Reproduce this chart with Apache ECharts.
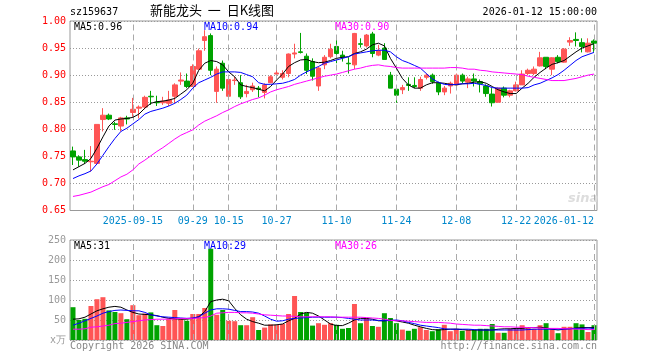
<!DOCTYPE html>
<html><head><meta charset="utf-8">
<script src="https://cdn.jsdelivr.net/npm/echarts@6/dist/echarts.min.js"></script>
<style>html,body{margin:0;padding:0;background:#fff}#c{width:660px;height:360px}</style>
</head><body><div id="c"></div>
<script>
var dates = ['2025-09-01','2025-09-02','2025-09-03','2025-09-04','2025-09-05','2025-09-08','2025-09-09','2025-09-10','2025-09-11','2025-09-12',
'2025-09-15','2025-09-16','2025-09-17','2025-09-18','2025-09-19','2025-09-22','2025-09-23','2025-09-24','2025-09-25','2025-09-26',
'2025-09-29','2025-09-30','2025-10-09','2025-10-10','2025-10-13','2025-10-14','2025-10-15','2025-10-16','2025-10-17','2025-10-20',
'2025-10-21','2025-10-22','2025-10-23','2025-10-24','2025-10-27','2025-10-28','2025-10-29','2025-10-30','2025-10-31','2025-11-03',
'2025-11-04','2025-11-05','2025-11-06','2025-11-07','2025-11-10','2025-11-11','2025-11-12','2025-11-13','2025-11-14','2025-11-17',
'2025-11-18','2025-11-19','2025-11-20','2025-11-21','2025-11-24','2025-11-25','2025-11-26','2025-11-27','2025-11-28','2025-12-01',
'2025-12-02','2025-12-03','2025-12-04','2025-12-05','2025-12-08','2025-12-09','2025-12-10','2025-12-11','2025-12-12','2025-12-15',
'2025-12-16','2025-12-17','2025-12-18','2025-12-19','2025-12-22','2025-12-23','2025-12-24','2025-12-25','2025-12-26','2025-12-29',
'2025-12-30','2025-12-31','2026-01-05','2026-01-06','2026-01-07','2026-01-08','2026-01-09','2026-01-12'];
var tickDates = ['2025-09-15','2025-09-29','2025-10-15','2025-10-27','2025-11-10','2025-11-24','2025-12-08','2025-12-22','2026-01-12'];
var tickLabels = ['2025-09-15','09-29','10-15','10-27','11-10','11-24','12-08','12-22','2026-01-12'];
var priceTicks = [0.65,0.70,0.75,0.80,0.85,0.90,0.95,1.00];
var volTicks = [0,50,100,150,200,250];

var open  = [0.760,0.749,0.744,0.740,0.737,0.818,0.826,0.810,0.806,0.821,0.831,0.839,0.841,0.861,0.850,0.849,0.848,0.861,0.889,0.889,
0.879,0.911,0.964,0.973,0.870,0.922,0.861,0.890,0.886,0.866,0.873,0.876,0.868,0.886,0.902,0.896,0.903,0.939,0.943,0.935,
0.925,0.880,0.919,0.934,0.953,0.937,0.922,0.919,0.958,0.954,0.976,0.937,0.950,0.900,0.874,0.873,0.883,0.881,0.876,0.896,
0.900,0.885,0.869,0.880,0.882,0.900,0.887,0.893,0.888,0.880,0.865,0.850,0.876,0.863,0.871,0.882,0.903,0.903,0.917,0.933,
0.911,0.933,0.924,0.961,0.966,0.960,0.943,0.963];
var close = [0.749,0.743,0.741,0.741,0.809,0.826,0.819,0.809,0.821,0.819,0.837,0.841,0.859,0.860,0.849,0.852,0.854,0.882,0.891,0.879,
0.916,0.945,0.971,0.909,0.911,0.876,0.892,0.891,0.860,0.870,0.880,0.874,0.882,0.897,0.904,0.903,0.939,0.941,0.942,0.909,
0.898,0.913,0.933,0.948,0.940,0.933,0.921,0.977,0.957,0.974,0.940,0.945,0.929,0.876,0.863,0.877,0.881,0.879,0.892,0.900,
0.888,0.869,0.876,0.885,0.900,0.889,0.893,0.889,0.884,0.866,0.849,0.876,0.863,0.871,0.882,0.902,0.909,0.911,0.932,0.916,
0.932,0.925,0.948,0.964,0.964,0.953,0.959,0.959];
var low   = [0.734,0.731,0.736,0.722,0.735,0.796,0.817,0.799,0.796,0.809,0.823,0.820,0.837,0.845,0.843,0.845,0.843,0.848,0.882,0.876,
0.878,0.910,0.945,0.900,0.849,0.871,0.860,0.882,0.856,0.859,0.869,0.859,0.857,0.885,0.892,0.892,0.896,0.931,0.940,0.902,
0.890,0.871,0.911,0.931,0.922,0.925,0.903,0.911,0.951,0.951,0.933,0.935,0.929,0.876,0.849,0.865,0.871,0.876,0.871,0.892,
0.884,0.863,0.863,0.866,0.881,0.885,0.876,0.879,0.868,0.860,0.842,0.849,0.859,0.859,0.870,0.882,0.900,0.900,0.916,0.911,
0.900,0.922,0.923,0.954,0.953,0.942,0.942,0.943];
var high  = [0.768,0.752,0.762,0.769,0.809,0.839,0.829,0.814,0.823,0.825,0.858,0.844,0.862,0.871,0.862,0.860,0.871,0.885,0.905,0.903,
0.920,0.949,0.983,0.977,0.916,0.927,0.893,0.897,0.900,0.882,0.886,0.880,0.885,0.900,0.912,0.909,0.940,0.958,0.978,0.940,
0.931,0.916,0.937,0.958,0.971,0.945,0.933,0.978,0.968,0.976,0.980,0.956,0.959,0.906,0.879,0.882,0.896,0.896,0.897,0.903,
0.903,0.888,0.880,0.888,0.903,0.903,0.897,0.903,0.892,0.883,0.876,0.877,0.879,0.873,0.888,0.909,0.912,0.916,0.943,0.933,
0.933,0.937,0.950,0.970,0.979,0.968,0.968,0.966];
var ma5   = [0.725,0.731,0.737,0.746,0.765,0.786,0.806,0.817,0.819,0.820,0.822,0.828,0.839,0.848,0.851,0.852,0.854,0.857,0.865,0.873,
0.885,0.909,0.922,0.927,0.925,0.919,0.906,0.897,0.882,0.879,0.877,0.874,0.871,0.879,0.891,0.902,0.916,0.923,0.928,0.929,
0.925,0.923,0.924,0.927,0.931,0.933,0.934,0.940,0.943,0.948,0.956,0.959,0.954,0.931,0.913,0.894,0.882,0.876,0.876,0.882,
0.886,0.886,0.885,0.883,0.882,0.884,0.885,0.887,0.888,0.885,0.879,0.873,0.869,0.866,0.866,0.876,0.885,0.896,0.905,0.913,
0.920,0.923,0.927,0.935,0.943,0.950,0.954,0.958];
var ma10  = [0.709,0.714,0.718,0.723,0.736,0.752,0.768,0.783,0.796,0.802,0.810,0.818,0.828,0.833,0.836,0.839,0.843,0.848,0.855,0.863,
0.876,0.886,0.891,0.896,0.902,0.906,0.906,0.906,0.905,0.901,0.897,0.886,0.883,0.883,0.884,0.885,0.888,0.892,0.900,0.906,
0.911,0.916,0.922,0.925,0.928,0.931,0.934,0.939,0.941,0.943,0.945,0.946,0.946,0.943,0.934,0.927,0.923,0.918,0.913,0.903,
0.893,0.887,0.883,0.882,0.883,0.884,0.884,0.885,0.883,0.881,0.877,0.876,0.876,0.876,0.876,0.876,0.877,0.882,0.885,0.890,
0.895,0.901,0.909,0.918,0.927,0.934,0.938,0.942];
var ma30  = [0.676,0.678,0.681,0.684,0.689,0.694,0.698,0.705,0.712,0.717,0.725,0.736,0.743,0.751,0.759,0.766,0.774,0.782,0.789,0.794,
0.799,0.808,0.815,0.820,0.825,0.831,0.836,0.842,0.847,0.851,0.855,0.858,0.863,0.869,0.873,0.876,0.879,0.883,0.886,0.889,
0.892,0.895,0.898,0.900,0.902,0.905,0.908,0.911,0.913,0.916,0.918,0.919,0.917,0.916,0.914,0.913,0.913,0.913,0.913,0.913,
0.913,0.913,0.913,0.914,0.914,0.913,0.911,0.911,0.909,0.908,0.906,0.905,0.904,0.903,0.902,0.901,0.898,0.896,0.894,0.892,
0.890,0.890,0.890,0.892,0.894,0.897,0.900,0.902];
var vol   = [82,50,53,85,102,107,74,70,67,52,87,62,66,69,37,35,52,75,52,48,
65,65,80,228,63,75,48,47,37,37,57,25,31,39,38,40,65,110,70,68,
36,42,38,42,38,28,30,90,42,55,35,33,67,55,42,26,23,28,32,25,
22,27,38,22,28,23,25,25,28,28,40,18,18,28,30,37,32,28,37,42,
28,17,33,33,42,39,20,37];
var vma5  = [52,53,57,65,73,78,82,84,82,75,69,65,64,63,61,57,54,53,52,52,
54,58,71,96,100,102,98,79,63,52,46,42,37,37,38,40,48,54,65,69,
67,60,50,40,36,36,42,50,54,54,52,48,48,50,48,45,42,37,33,29,
26,25,26,27,27,26,25,25,25,25,25,27,28,28,29,29,31,31,32,30,
27,25,27,28,30,31,31,31];
var vma10 = [37,42,48,54,60,67,71,74,75,74,73,73,69,63,60,58,57,56,55,54,
55,58,67,75,78,78,77,74,71,71,70,67,60,52,47,48,52,54,55,56,
57,57,57,57,57,56,54,52,50,50,50,49,48,49,50,48,44,41,37,35,
33,31,28,27,27,27,27,26,25,25,25,25,25,25,25,25,26,27,27,27,
27,27,27,28,29,29,30,29];
var vma30 = [27,27,28,32,33,35,37,41,42,44,46,48,50,51,52,52,52,53,54,54,
54,55,56,60,67,68,69,69,68,68,67,65,63,62,61,60,60,59,58,58,
58,58,58,58,57,57,57,57,57,56,55,54,52,49,48,48,47,46,45,44,
44,44,43,42,40,39,38,37,37,36,35,34,33,33,32,32,31,31,30,29,
29,29,28,28,27,27,26,26];

var UP = '#ff5555', DOWN = '#00a300';
var MONO = '"DejaVu Sans Mono", "Liberation Mono", monospace';
var kdata = dates.map(function(d,i){ return [open[i], close[i], low[i], high[i]]; });
var vdata = vol.map(function(v,i){ return {value: v, itemStyle: {color: close[i] >= open[i] ? UP : DOWN}}; });
var tickIdx = tickDates.map(function(d){ return dates.indexOf(d); });
var vlines = tickDates.map(function(d){ return {xAxis: d}; });
var vlineStyle = {color: '#aaaaaa', type: [6,4], width: 1};

var chart = echarts.init(document.getElementById('c'), null, {renderer: 'canvas'});
chart.setOption({
  animation: false,
  backgroundColor: '#ffffff',
  textStyle: {fontFamily: MONO},
  grid: [
    {left: 70, right: 63, top: 21, height: 189.5, show: true, borderColor: '#999999', borderWidth: 1, backgroundColor: 'transparent'},
    {left: 70, right: 63, top: 240, height: 100, show: true, borderColor: '#999999', borderWidth: 1, backgroundColor: 'transparent'}
  ],
  xAxis: [
    {type: 'category', gridIndex: 0, data: dates, boundaryGap: true,
     axisLine: {show: false}, axisTick: {show: false}, splitLine: {show: false},
     axisLabel: {show: true, color: '#0088cc', fontFamily: MONO, fontSize: 10, margin: 6,
       interval: function(idx){ return tickIdx.indexOf(idx) >= 0; },
       formatter: function(v){ var k = tickDates.indexOf(v); return k >= 0 ? tickLabels[k] : ''; },
       alignMaxLabel: 'right'}},
    {type: 'category', gridIndex: 1, data: dates, boundaryGap: true,
     axisLine: {show: false}, axisTick: {show: false}, axisLabel: {show: false}, splitLine: {show: false}}
  ],
  yAxis: [
    {type: 'value', gridIndex: 0, min: priceTicks[0], max: priceTicks[priceTicks.length-1], interval: 0.05,
     axisLine: {show: false}, axisTick: {show: false},
     axisLabel: {color: '#ff0000', fontFamily: MONO, fontSize: 10, margin: 4, formatter: function(v){ return v.toFixed(2); }},
     splitLine: {show: true, lineStyle: {color: '#999999', type: [1,2], width: 1}}},
    {type: 'value', gridIndex: 1, min: volTicks[0], max: volTicks[volTicks.length-1], interval: 50,
     axisLine: {show: false}, axisTick: {show: false},
     axisLabel: {color: '#999999', fontFamily: MONO, fontSize: 10, margin: 4, formatter: function(v){ return v === 0 ? 'x万' : String(v); }},
     splitLine: {show: true, lineStyle: {color: '#999999', type: [1,2], width: 1}}}
  ],
  series: [
    {type: 'candlestick', xAxisIndex: 0, yAxisIndex: 0, data: kdata, barWidth: 5,
     itemStyle: {color: UP, color0: DOWN, borderColor: UP, borderColor0: DOWN, borderWidth: 1},
     markLine: {silent: true, symbol: ['none','none'], label: {show: false}, lineStyle: vlineStyle, data: vlines}},
    {type: 'line', xAxisIndex: 0, yAxisIndex: 0, data: ma5, showSymbol: false, lineStyle: {color: '#000000', width: 1}, z: 5},
    {type: 'line', xAxisIndex: 0, yAxisIndex: 0, data: ma10, showSymbol: false, lineStyle: {color: '#0000ff', width: 1}, z: 5},
    {type: 'line', xAxisIndex: 0, yAxisIndex: 0, data: ma30, showSymbol: false, lineStyle: {color: '#ff00ff', width: 1}, z: 5},
    {type: 'bar', xAxisIndex: 1, yAxisIndex: 1, data: vdata, barWidth: 5,
     markLine: {silent: true, symbol: ['none','none'], label: {show: false}, lineStyle: vlineStyle, data: vlines}},
    {type: 'line', xAxisIndex: 1, yAxisIndex: 1, data: vma5, showSymbol: false, lineStyle: {color: '#000000', width: 1}, z: 5},
    {type: 'line', xAxisIndex: 1, yAxisIndex: 1, data: vma10, showSymbol: false, lineStyle: {color: '#0000ff', width: 1}, z: 5},
    {type: 'line', xAxisIndex: 1, yAxisIndex: 1, data: vma30, showSymbol: false, lineStyle: {color: '#ff00ff', width: 1}, z: 5}
  ],
  graphic: [
    {type: 'text', left: 70, top: 7, style: {text: 'sz159637', font: '10px ' + MONO, fill: '#000'}},
    {type: 'text', left: 150, top: 4, style: {text: '新能龙头  一  日K线图', font: '13px "Noto Sans CJK SC"', fill: '#000'}},
    {type: 'text', right: 63, top: 7, style: {text: '2026-01-12 15:00:00', font: '10px ' + MONO, fill: '#000'}},
    {type: 'text', left: 74, top: 22, style: {text: 'MA5:' + ma5[ma5.length-1].toFixed(2), font: '10px ' + MONO, fill: '#000000'}},
    {type: 'text', left: 204, top: 22, style: {text: 'MA10:' + ma10[ma10.length-1].toFixed(2), font: '10px ' + MONO, fill: '#0000ff'}},
    {type: 'text', left: 335, top: 22, style: {text: 'MA30:' + ma30[ma30.length-1].toFixed(2), font: '10px ' + MONO, fill: '#ff00ff'}},
    {type: 'text', left: 74, top: 241, style: {text: 'MA5:' + vma5[vma5.length-1], font: '10px ' + MONO, fill: '#000000'}},
    {type: 'text', left: 204, top: 241, style: {text: 'MA10:' + vma10[vma10.length-1], font: '10px ' + MONO, fill: '#0000ff'}},
    {type: 'text', left: 335, top: 241, style: {text: 'MA30:' + vma30[vma30.length-1], font: '10px ' + MONO, fill: '#ff00ff'}},
    {type: 'text', left: 70, top: 341, style: {text: 'Copyright 2026 SINA.COM', font: '10px ' + MONO, fill: '#888888'}},
    {type: 'text', right: 63, top: 341, style: {text: 'http://finance.sina.com.cn', font: '10px ' + MONO, fill: '#888888'}},
    {type: 'text', left: 568, top: 192, style: {text: 'sina', font: 'italic bold 13px "DejaVu Sans"', fill: '#dddddd'}}
  ]
});
</script></body></html>
